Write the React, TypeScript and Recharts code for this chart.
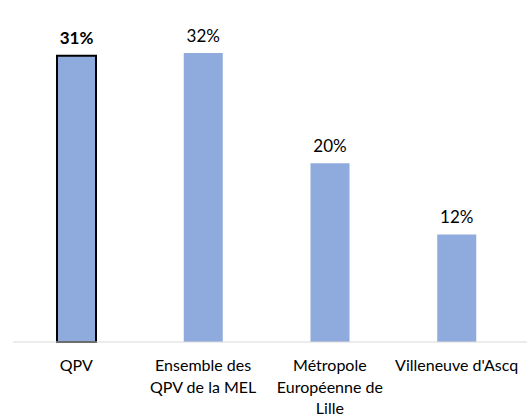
import React from "react";
import { BarChart, Bar, XAxis, YAxis, Cell, LabelList } from "recharts";

// Categories (line breaks as in the original axis labels)
const categories = [
  "QPV",
  "Ensemble des\nQPV de la MEL",
  "Métropole\nEuropéenne de\nLille",
  "Villeneuve d'Ascq",
];
// bar heights (%)
const shares = [31.7, 32, 19.8, 11.9];
// printed data labels
const shareLabels = ["31%", "32%", "20%", "12%"];
const highlighted = [true, false, false, false];

const BAR_COLOR = "#8FAADC";
const AXIS_COLOR = "#D9D9D9";
const TEXT_COLOR = "#000000";
const FONT = "Lato, 'Open Sans', sans-serif";

const data = categories.map((name, i) => ({
  name,
  value: shares[i],
  label: shareLabels[i],
  highlight: highlighted[i],
}));

// multi-line category tick
const CategoryTick = (props: any) => {
  const { x, y, payload } = props;
  const lines = String(payload.value).split("\n");
  return (
    <g transform={`translate(${x},${y})`}>
      <text textAnchor="middle" fill={TEXT_COLOR} fontSize={16} fontFamily={FONT}>
        {lines.map((line, i) => (
          <tspan key={i} x={0} y={21 + i * 21.5}>
            {line}
          </tspan>
        ))}
      </text>
    </g>
  );
};

const ValueLabel = (props: any) => {
  const { x, y, width, index } = props;
  const entry = data[index];
  return (
    <text
      x={x + width / 2}
      y={y - 11.5}
      textAnchor="middle"
      fill={TEXT_COLOR}
      fontSize={17}
      fontFamily={FONT}
      fontWeight={entry?.highlight ? "bold" : "normal"}
    >
      {entry?.label}
    </text>
  );
};

export default function App() {
  return (
    <div style={{ position: "absolute", left: 0, top: 0, background: "#fff" }}>
      <BarChart
        width={527}
        height={415}
        data={data}
        margin={{ top: 26, right: 0, left: 13, bottom: 0 }}
      >
        <XAxis
          dataKey="name"
          axisLine={{ stroke: AXIS_COLOR, strokeWidth: 1 }}
          tickLine={false}
          tick={<CategoryTick />}
          interval={0}
          padding={{ left: 0, right: 7 }}
          height={73}
        />
        <YAxis hide domain={[0, 35]} />
        <Bar dataKey="value" barSize={39} isAnimationActive={false}>
          {data.map((entry, i) => (
            <Cell
              key={`cell-${i}`}
              fill={BAR_COLOR}
              stroke={entry.highlight ? "#000" : "none"}
              strokeWidth={entry.highlight ? 2 : 0}
            />
          ))}
          <LabelList dataKey="value" content={<ValueLabel />} />
        </Bar>
      </BarChart>
    </div>
  );
}
